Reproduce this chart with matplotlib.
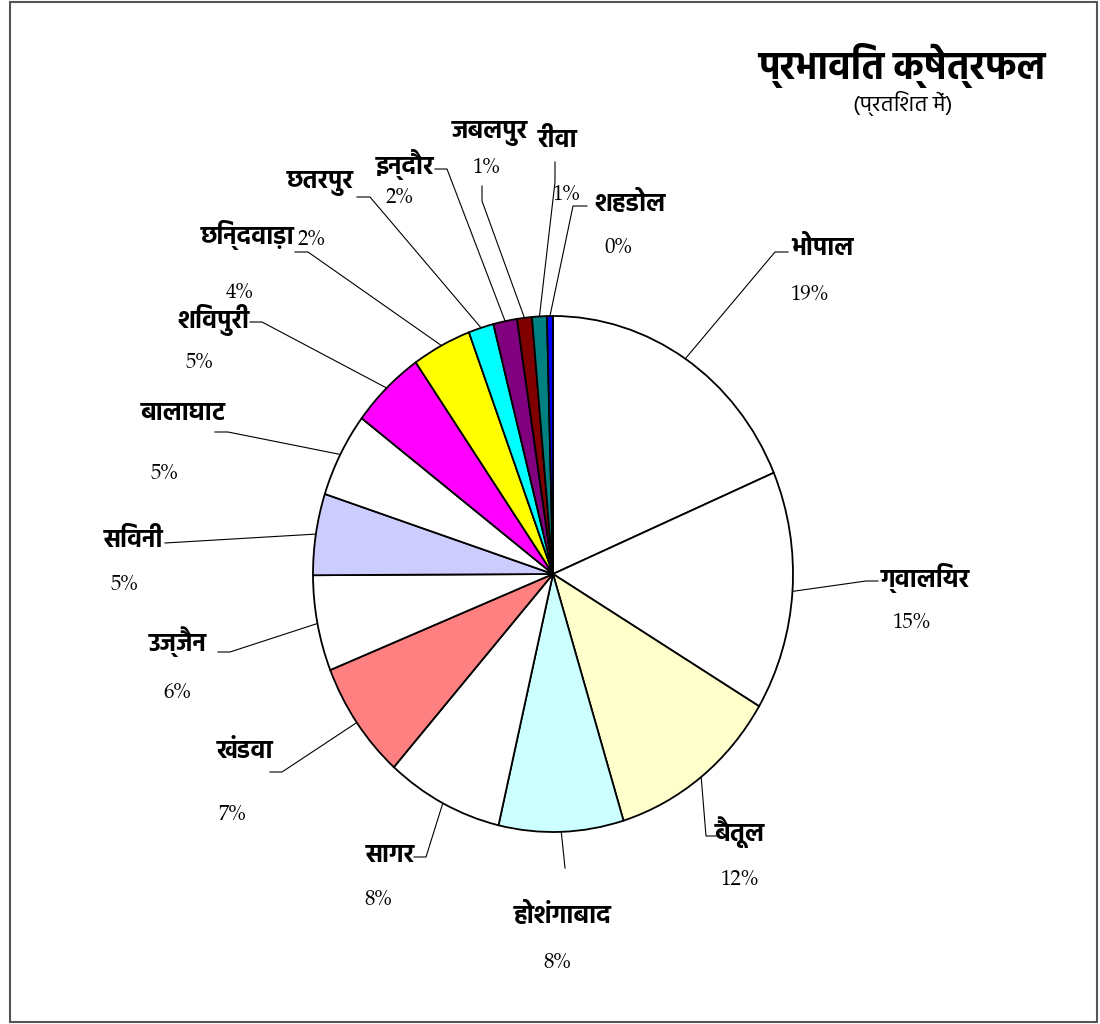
import matplotlib
matplotlib.use('Agg')
import matplotlib.pyplot as plt
import numpy as np
from matplotlib import font_manager as fm
from matplotlib.patches import Rectangle

# जिलेवार प्रभावित क्षेत्रफल (प्रतिशत)
districts = ['भोपाल', 'ग्वालियर', 'बैतूल', 'होशंगाबाद', 'सागर', 'खंडवा', 'उज्जैन', 'सिवनी',
             'बालाघाट', 'शिवपुरी', 'छिन्दवाड़ा', 'छतरपुर', 'इन्दौर', 'जबलपुर', 'रीवा', 'शहडोल']
area_share = [18.6, 15.0, 11.7, 8.4, 7.9, 7.4, 6.0, 5.1, 5.3, 5.0, 4.0, 1.7, 1.6, 1.0, 1.0, 0.4]
colors = ['white', 'white', '#FFFFCC', '#CCFFFF', 'white', '#FF8080', 'white', '#CCCCFF',
          'white', '#FF00FF', '#FFFF00', '#00FFFF', '#800080', '#800000', '#008080', '#0000FF']

title = 'प्रभावित क्षेत्रफल'
subtitle = '(प्रतिशत में)'

installed = {f.name for f in fm.fontManager.ttflist}


def first_font(names):
    for n in names:
        if n in installed:
            return n
    return 'DejaVu Sans'


deva = first_font(['Hind', 'Noto Sans Devanagari', 'Mukta', 'Yantramanav', 'Amiko',
                   'Biryani', 'FreeSans'])
serif = first_font(['P052', 'TeX Gyre Pagella', 'URW Palladio L', 'Gelasio',
                    'Liberation Serif'])
name_fam = [deva, 'DejaVu Sans']
pct_fam = [serif, 'DejaVu Serif']

# pie centre and radii in pixels (the pie is a bit taller than wide)
CX, CY, RX, RY = 553, 574, 240, 258


def px(x, y):
    return ((x - CX) / RX, (CY - y) / RY)


# label layout in pixels: name centre, percent centre, leader points after the slice edge
layout = {
    'भोपाल': ((822, 248), (810, 295), [(775, 252), (788, 252)]),
    'ग्वालियर': ((925, 578), (912, 623), [(866, 581), (878, 581)]),
    'बैतूल': ((740, 832), (740, 880), [(706, 836), (716, 836)]),
    'होशंगाबाद': ((563, 916), (557, 963), [(565, 868)]),
    'सागर': ((390, 855), (378, 900), [(426, 857), (414, 857)]),
    'खंडवा': ((245, 752), (232, 815), [(282, 772), (270, 772)]),
    'उज्जैन': ((178, 642), (177, 693), [(230, 652), (218, 652)]),
    'सिवनी': ((133, 540), (125, 585), [(165, 543)]),
    'बालाघाट': ((183, 413), (165, 474), [(228, 432), (215, 432)]),
    'शिवपुरी': ((213, 320), (200, 363), [(262, 322), (250, 322)]),
    'छिन्दवाड़ा': ((248, 235), (240, 293), [(308, 252), (295, 252)]),
    'छतरपुर': ((320, 183), (312, 240), [(370, 197), (357, 197)]),
    'इन्दौर': ((405, 165), (400, 198), [(447, 169), (435, 169)]),
    'जबलपुर': ((490, 133), (487, 168), [(482, 201), (482, 186)]),
    'रीवा': ((558, 140), (567, 195), [(555, 182), (555, 162)]),
    'शहडोल': ((630, 203), (618, 248), [(573, 206), (587, 206)]),
}

fig = plt.figure(figsize=(11, 10.24), dpi=100)
ax = fig.add_axes([0, 0, 1, 1])

wedges, _ = ax.pie(area_share, colors=colors, startangle=90, counterclock=False,
                   wedgeprops=dict(edgecolor='black', linewidth=1.3))
ax.set_aspect('auto')
ax.set_xlim(px(0, 0)[0], px(1100, 0)[0])
ax.set_ylim(px(0, 1024)[1], px(0, 0)[1])
ax.axis('off')

total = sum(area_share)
for w, name, v in zip(wedges, districts, area_share):
    mid = np.deg2rad((w.theta1 + w.theta2) / 2)
    (nx, ny), (qx, qy), pts = layout[name]
    xs = [np.cos(mid)] + [px(*p)[0] for p in pts]
    ys = [np.sin(mid)] + [px(*p)[1] for p in pts]
    ax.plot(xs, ys, color='black', lw=0.8)
    ax.text(*px(nx, ny), name, ha='center', va='center', fontsize=18,
            fontweight='bold', family=name_fam)
    ax.text(*px(qx, qy), f'{round(v / total * 100)}%', ha='center', va='center',
            fontsize=15, family=pct_fam)

ax.text(*px(902, 66), title, ha='center', va='center', fontsize=27,
        fontweight='bold', family=name_fam)
ax.text(*px(903, 104), subtitle, ha='center', va='center', fontsize=16, family=name_fam)

fig.patches.append(Rectangle((10 / 1100, 2 / 1024), 1087 / 1100, 1020 / 1024,
                             transform=fig.transFigure, fill=False,
                             edgecolor='#555555', lw=1.5))

fig.savefig('out.png', dpi=100)
